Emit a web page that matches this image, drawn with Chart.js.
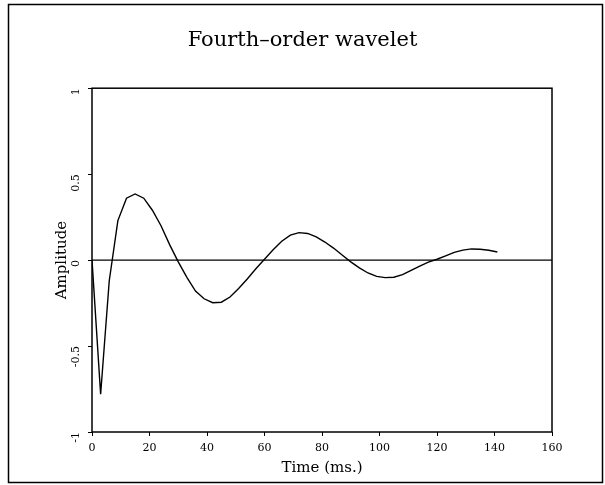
<!DOCTYPE html>
<html>
<head>
<meta charset="utf-8">
<script src="https://cdn.jsdelivr.net/npm/chart.js@4"></script>
<style>
  html, body { margin: 0; padding: 0; background: #fff; }
  #wrap { width: 605px; height: 485px; }
</style>
</head>
<body>
<div id="wrap"><canvas id="chart" width="605" height="485"></canvas></div>
<script>
const timeMs = [0, 3, 6, 9, 12, 15, 18, 21, 24, 27, 30, 33, 36, 39, 42, 45, 48, 51, 54, 57,
    60, 63, 66, 69, 72, 75, 78, 81, 84, 87, 90, 93, 96, 99, 102, 105, 108, 111, 114, 117,
    120, 123, 126, 129, 132, 135, 138, 141];
const amplitude = [0, -0.78, -0.12, 0.23, 0.36, 0.385, 0.36, 0.29, 0.20, 0.09, -0.01, -0.10,
    -0.18, -0.225, -0.248, -0.245, -0.215, -0.165, -0.11, -0.05,
    0.005, 0.06, 0.11, 0.145, 0.16, 0.155, 0.135, 0.105, 0.07, 0.03,
    -0.01, -0.045, -0.075, -0.095, -0.102, -0.1, -0.085, -0.06, -0.035, -0.012,
    0.005, 0.025, 0.045, 0.058, 0.065, 0.063, 0.057, 0.047];
const xTicks = [0, 20, 40, 60, 80, 100, 120, 140, 160];
const yTicks = [-1, -0.5, 0, 0.5, 1];
const zeroLine = [{ x: 0, y: 0 }, { x: 160, y: 0 }];

const serif = "'DejaVu Serif', 'Liberation Serif', serif";

// frame round the page and box round the plot
const boxes = {
    id: "boxes",
    beforeDraw(chart) {
        const ctx = chart.ctx;
        ctx.save();
        ctx.fillStyle = "#fff";
        ctx.fillRect(0, 0, chart.width, chart.height);
        ctx.strokeStyle = "#000";
        ctx.lineWidth = 1.5;
        ctx.strokeRect(8.5, 4.5, 594, 478);
        ctx.restore();
    },
    afterDraw(chart) {
        const a = chart.chartArea;
        const ctx = chart.ctx;
        ctx.save();
        ctx.strokeStyle = "#000";
        ctx.lineWidth = 1.5;
        ctx.strokeRect(a.left, a.top, a.right - a.left, a.bottom - a.top);
        ctx.restore();
    }
};

new Chart(document.getElementById("chart").getContext("2d"), {
    type: "line",
    data: {
        datasets: [
            {
                data: timeMs.map((t, i) => ({ x: t, y: amplitude[i] })),
                borderColor: "#000",
                borderWidth: 1.4,
                pointRadius: 0,
                tension: 0,
                fill: false
            },
            {
                data: zeroLine,
                borderColor: "#000",
                borderWidth: 1.2,
                pointRadius: 0,
                fill: false
            }
        ]
    },
    options: {
        responsive: false,
        animation: false,
        layout: { padding: { left: 53, right: 53, top: 0, bottom: 8 } },
        plugins: {
            legend: { display: false },
            tooltip: { enabled: false },
            title: {
                display: true,
                text: "Fourth\u2013order wavelet",
                color: "#000",
                font: { family: serif, size: 21, weight: "normal" },
                padding: { top: 28, bottom: 35 }
            }
        },
        scales: {
            x: {
                type: "linear",
                min: 0,
                max: 160,
                afterBuildTicks: s => { s.ticks = xTicks.map(v => ({ value: v })); },
                afterFit: s => { s.height = 45; },
                grid: { drawOnChartArea: false, tickLength: 4, color: "#000" },
                border: { display: false },
                ticks: { color: "#000", padding: 6, maxRotation: 0, font: { family: serif, size: 11 } },
                title: {
                    display: true,
                    text: "Time (ms.)",
                    color: "#000",
                    font: { family: serif, size: 15 },
                    padding: { top: 2, bottom: 0 }
                }
            },
            y: {
                type: "linear",
                min: -1,
                max: 1,
                afterBuildTicks: s => { s.ticks = yTicks.map(v => ({ value: v })); },
                afterFit: s => { s.width = 39; },
                grid: { drawOnChartArea: false, tickLength: 4, color: "#000" },
                border: { display: false },
                ticks: {
                    color: "#000",
                    padding: 12,
                    minRotation: 90,
                    maxRotation: 90,
                    font: { family: serif, size: 11 },
                    callback: v => String(v)
                },
                title: {
                    display: true,
                    text: "Amplitude",
                    color: "#000",
                    font: { family: serif, size: 15 },
                    padding: { top: 0, bottom: 0 }
                }
            }
        }
    },
    plugins: [boxes]
});
</script>
</body>
</html>
